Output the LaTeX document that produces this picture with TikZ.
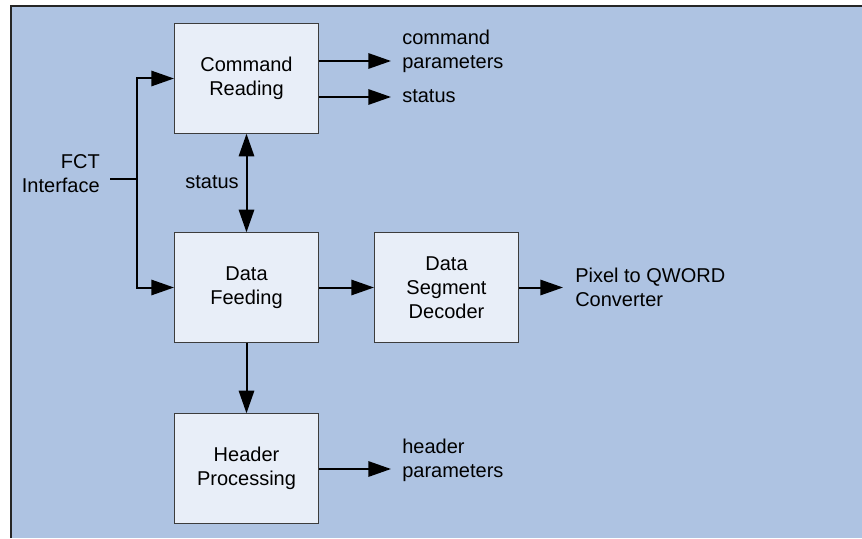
\documentclass[tikz,border=0pt]{standalone}
\usepackage{fontspec}
\setmainfont{Liberation Sans}
\usetikzlibrary{arrows.meta}
\definecolor{panelblue}{RGB}{174,195,226}
\definecolor{boxfill}{RGB}{232,238,248}
\definecolor{boxline}{RGB}{60,60,60}
\tikzset{
  block/.style={draw=boxline, line width=0.8pt, fill=boxfill,
    minimum width=108pt, minimum height=82pt, inner sep=0pt,
    align=center, font=\fontsize{15}{17.8}\selectfont},
  lbl/.style={inner sep=0pt, font=\fontsize{15}{17.8}\selectfont},
  flow/.style={line width=1.5pt, -{Triangle[length=17pt,width=11.5pt]}},
  wire/.style={line width=1.5pt},
}
\begin{document}
\begin{tikzpicture}[x=0.75pt, y=-0.75pt]
  \useasboundingbox (0,0) rectangle (862,538);
  % panel background and its frame
  \fill[panelblue] (11,6) rectangle (862,538);
  \draw[line width=1.2pt, color=black!85] (11,538) -- (11,6) -- (862,6);

  % blocks
  \node[block] (cmd)  at (246.5,78.5)  {Command\\Reading};
  \node[block] (feed) at (246.5,287.5) {Data\\Feeding};
  \node[block] (dec)  at (446.5,287.5) {Data\\Segment\\Decoder};
  \node[block] (hdr)  at (246.5,468.5) {Header\\Processing};

  % side labels
  \node[lbl, anchor=east, inner xsep=7.5pt, align=right] (fct) at (110,173.5) {FCT\\Interface};
  \node[lbl, anchor=center] (st) at (212,182) {status};
  \node[lbl, anchor=west, align=left] (cpar) at (402,51) {command\\parameters};
  \node[lbl, anchor=west] (cst) at (402,96) {status};
  \node[lbl, anchor=west, align=left] (pix) at (575,287) {Pixel to QWORD\\Converter};
  \node[lbl, anchor=west, align=left] (hpar) at (402,460) {header\\parameters};

  % free ends of connectors
  \coordinate (j)   at (137,179);
  \coordinate (cpE) at (391,61);
  \coordinate (csE) at (391,97);
  \coordinate (pxE) at (563,287.5);
  \coordinate (hpE) at (391,469);

  % connectors
  \draw[wire] (fct.east |- j) -- (j);
  \draw[flow] (j) |- (cmd.west);
  \draw[flow] (j) |- (feed.west);
  \draw[line width=1.5pt, {Triangle[length=17pt,width=11.5pt]}-{Triangle[length=17pt,width=11.5pt]}] (cmd.south) -- (feed.north);
  \draw[flow] (feed.east) -- (dec.west);
  \draw[flow] (dec.east) -- (pxE);
  \draw[flow] (cmd.east |- cpE) -- (cpE);
  \draw[flow] (cmd.east |- csE) -- (csE);
  \draw[flow] (feed.south) -- (hdr.north);
  \draw[flow] (hdr.east |- hpE) -- (hpE);
\end{tikzpicture}
\end{document}
